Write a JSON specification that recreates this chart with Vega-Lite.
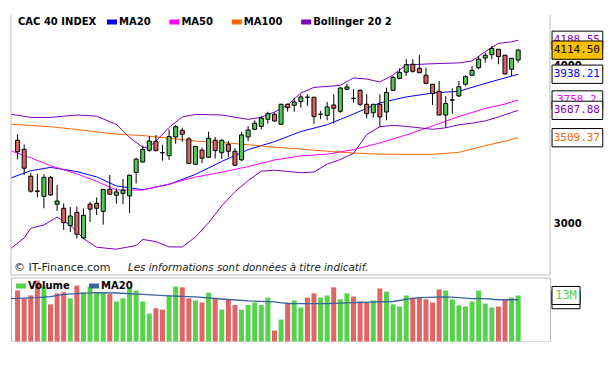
{
  "$schema": "https://vega.github.io/schema/vega-lite/v6.json",
  "background": "white",
  "padding": {"left": 10, "top": 14, "right": 0, "bottom": 0},
  "autosize": {"type": "pad"},
  "bounds": "flush",
  "config": {"view": {"stroke": null}, "font": "DejaVu Sans", "axis": {"grid": false}},
  "spacing": 2.5,
  "resolve": {"scale": {"color": "independent", "x": "independent", "y": "independent"}, "legend": {"color": "independent"}},
  "datasets": {
    "ohlc": [
      {"i":1,"open":3493,"high":3531,"low":3375,"close":3421,"vol":14.4},
      {"i":2,"open":3436,"high":3466,"low":3280,"close":3320,"vol":12.1},
      {"i":3,"open":3272,"high":3290,"low":3176,"close":3184,"vol":13.0},
      {"i":4,"open":3186,"high":3286,"low":3149,"close":3183,"vol":17.2},
      {"i":5,"open":3155,"high":3284,"low":3087,"close":3265,"vol":15.5},
      {"i":6,"open":3265,"high":3274,"low":3157,"close":3163,"vol":10.5},
      {"i":7,"open":3110,"high":3221,"low":3072,"close":3128,"vol":13.6},
      {"i":8,"open":3087,"high":3114,"low":2968,"close":3007,"vol":13.9},
      {"i":9,"open":2992,"high":3094,"low":2957,"close":3044,"vol":12.2},
      {"i":10,"open":3064,"high":3097,"low":2922,"close":2945,"vol":15.8},
      {"i":11,"open":2925,"high":3086,"low":2918,"close":3048,"vol":13.9},
      {"i":12,"open":3110,"high":3123,"low":3011,"close":3082,"vol":15.5},
      {"i":13,"open":3115,"high":3148,"low":3050,"close":3087,"vol":13.6},
      {"i":14,"open":3070,"high":3197,"low":2997,"close":3195,"vol":13.9},
      {"i":15,"open":3195,"high":3280,"low":3165,"close":3167,"vol":13.4},
      {"i":16,"open":3161,"high":3201,"low":3113,"close":3180,"vol":11.3},
      {"i":17,"open":3172,"high":3256,"low":3110,"close":3190,"vol":12.2},
      {"i":18,"open":3157,"high":3281,"low":3061,"close":3278,"vol":15.3},
      {"i":19,"open":3295,"high":3383,"low":3229,"close":3375,"vol":14.4},
      {"i":20,"open":3358,"high":3460,"low":3354,"close":3436,"vol":11.3},
      {"i":21,"open":3430,"high":3520,"low":3421,"close":3488,"vol":7.9},
      {"i":22,"open":3487,"high":3527,"low":3421,"close":3430,"vol":9.4},
      {"i":23,"open":3416,"high":3465,"low":3366,"close":3414,"vol":9.0},
      {"i":24,"open":3397,"high":3563,"low":3371,"close":3517,"vol":13.0},
      {"i":25,"open":3514,"high":3590,"low":3471,"close":3580,"vol":15.5},
      {"i":26,"open":3557,"high":3574,"low":3484,"close":3531,"vol":15.3},
      {"i":27,"open":3502,"high":3514,"low":3347,"close":3349,"vol":12.2},
      {"i":28,"open":3344,"high":3457,"low":3342,"close":3454,"vol":11.6},
      {"i":29,"open":3431,"high":3446,"low":3350,"close":3381,"vol":11.0},
      {"i":30,"open":3387,"high":3548,"low":3384,"close":3506,"vol":13.8},
      {"i":31,"open":3493,"high":3514,"low":3379,"close":3428,"vol":12.2},
      {"i":32,"open":3415,"high":3499,"low":3376,"close":3493,"vol":9.0},
      {"i":33,"open":3468,"high":3488,"low":3389,"close":3424,"vol":12.0},
      {"i":34,"open":3424,"high":3443,"low":3336,"close":3338,"vol":10.3},
      {"i":35,"open":3371,"high":3546,"low":3364,"close":3527,"vol":9.0},
      {"i":36,"open":3514,"high":3585,"low":3488,"close":3559,"vol":10.3},
      {"i":37,"open":3563,"high":3622,"low":3561,"close":3603,"vol":11.0},
      {"i":38,"open":3582,"high":3651,"low":3563,"close":3637,"vol":10.3},
      {"i":39,"open":3629,"high":3679,"low":3600,"close":3666,"vol":12.4},
      {"i":40,"open":3662,"high":3673,"low":3613,"close":3618,"vol":3.1},
      {"i":41,"open":3596,"high":3733,"low":3595,"close":3729,"vol":6.2},
      {"i":42,"open":3729,"high":3733,"low":3679,"close":3706,"vol":11.0},
      {"i":43,"open":3722,"high":3774,"low":3679,"close":3745,"vol":11.6},
      {"i":44,"open":3747,"high":3797,"low":3706,"close":3779,"vol":9.6},
      {"i":45,"open":3778,"high":3797,"low":3718,"close":3776,"vol":12.4},
      {"i":46,"open":3777,"high":3779,"low":3600,"close":3647,"vol":13.6},
      {"i":47,"open":3661,"high":3684,"low":3629,"close":3663,"vol":12.4},
      {"i":48,"open":3654,"high":3745,"low":3622,"close":3711,"vol":13.0},
      {"i":49,"open":3724,"high":3797,"low":3600,"close":3702,"vol":15.3},
      {"i":50,"open":3682,"high":3846,"low":3672,"close":3841,"vol":11.9},
      {"i":51,"open":3832,"high":3871,"low":3825,"close":3848,"vol":13.6},
      {"i":52,"open":3770,"high":3832,"low":3740,"close":3768,"vol":12.7},
      {"i":53,"open":3825,"high":3832,"low":3718,"close":3729,"vol":11.3},
      {"i":54,"open":3729,"high":3797,"low":3635,"close":3666,"vol":11.0},
      {"i":55,"open":3672,"high":3731,"low":3639,"close":3729,"vol":11.6},
      {"i":56,"open":3729,"high":3797,"low":3578,"close":3644,"vol":15.0},
      {"i":57,"open":3677,"high":3843,"low":3622,"close":3810,"vol":14.1},
      {"i":58,"open":3825,"high":3926,"low":3820,"close":3915,"vol":10.5},
      {"i":59,"open":3909,"high":3981,"low":3902,"close":3951,"vol":9.9},
      {"i":60,"open":3953,"high":4047,"low":3926,"close":4007,"vol":13.0},
      {"i":61,"open":4010,"high":4047,"low":3949,"close":3959,"vol":12.4},
      {"i":62,"open":3981,"high":4078,"low":3948,"close":3949,"vol":12.4},
      {"i":63,"open":3931,"high":3985,"low":3867,"close":3874,"vol":11.9},
      {"i":64,"open":3867,"high":3869,"low":3724,"close":3802,"vol":11.0},
      {"i":65,"open":3818,"high":3890,"low":3656,"close":3657,"vol":14.7},
      {"i":66,"open":3657,"high":3786,"low":3574,"close":3734,"vol":14.4},
      {"i":67,"open":3757,"high":3839,"low":3666,"close":3759,"vol":11.9},
      {"i":68,"open":3786,"high":3890,"low":3779,"close":3850,"vol":10.2},
      {"i":69,"open":3867,"high":3931,"low":3855,"close":3921,"vol":9.9},
      {"i":70,"open":3931,"high":3998,"low":3926,"close":3966,"vol":11.3},
      {"i":71,"open":3985,"high":4071,"low":3974,"close":4047,"vol":14.4},
      {"i":72,"open":4056,"high":4095,"low":4022,"close":4076,"vol":10.7},
      {"i":73,"open":4081,"high":4146,"low":4047,"close":4127,"vol":9.6},
      {"i":74,"open":4121,"high":4123,"low":4010,"close":4067,"vol":9.9},
      {"i":75,"open":4077,"high":4079,"low":3937,"close":3940,"vol":11.9},
      {"i":76,"open":3974,"high":4055,"low":3926,"close":4054,"vol":12.4},
      {"i":77,"open":4041,"high":4121,"low":4022,"close":4114.5,"vol":13.0}
    ],
    "lines": [
      {"i":0,"series":"MA20","band":"MA20","value":3262},{"i":3,"series":"MA20","band":"MA20","value":3305},{"i":6,"series":"MA20","band":"MA20","value":3325},{"i":10,"series":"MA20","band":"MA20","value":3300},{"i":13,"series":"MA20","band":"MA20","value":3268},{"i":16,"series":"MA20","band":"MA20","value":3215},{"i":20,"series":"MA20","band":"MA20","value":3193},{"i":24,"series":"MA20","band":"MA20","value":3224},{"i":28,"series":"MA20","band":"MA20","value":3283},{"i":32,"series":"MA20","band":"MA20","value":3361},{"i":36,"series":"MA20","band":"MA20","value":3434},{"i":40,"series":"MA20","band":"MA20","value":3484},{"i":44,"series":"MA20","band":"MA20","value":3549},{"i":48,"series":"MA20","band":"MA20","value":3593},{"i":52,"series":"MA20","band":"MA20","value":3664},{"i":56,"series":"MA20","band":"MA20","value":3738},{"i":60,"series":"MA20","band":"MA20","value":3779},{"i":64,"series":"MA20","band":"MA20","value":3806},{"i":68,"series":"MA20","band":"MA20","value":3818},{"i":72,"series":"MA20","band":"MA20","value":3873},{"i":75,"series":"MA20","band":"MA20","value":3912},{"i":77,"series":"MA20","band":"MA20","value":3938.21},
      {"i":0,"series":"MA50","band":"MA50","value":3426},{"i":3,"series":"MA50","band":"MA50","value":3384},{"i":6,"series":"MA50","band":"MA50","value":3335},{"i":10,"series":"MA50","band":"MA50","value":3286},{"i":13,"series":"MA50","band":"MA50","value":3242},{"i":16,"series":"MA50","band":"MA50","value":3191},{"i":20,"series":"MA50","band":"MA50","value":3191},{"i":24,"series":"MA50","band":"MA50","value":3226},{"i":28,"series":"MA50","band":"MA50","value":3267},{"i":32,"series":"MA50","band":"MA50","value":3296},{"i":36,"series":"MA50","band":"MA50","value":3330},{"i":40,"series":"MA50","band":"MA50","value":3370},{"i":44,"series":"MA50","band":"MA50","value":3395},{"i":48,"series":"MA50","band":"MA50","value":3406},{"i":52,"series":"MA50","band":"MA50","value":3434},{"i":56,"series":"MA50","band":"MA50","value":3476},{"i":60,"series":"MA50","band":"MA50","value":3527},{"i":64,"series":"MA50","band":"MA50","value":3585},{"i":68,"series":"MA50","band":"MA50","value":3647},{"i":72,"series":"MA50","band":"MA50","value":3701},{"i":75,"series":"MA50","band":"MA50","value":3731},{"i":77,"series":"MA50","band":"MA50","value":3758.2},
      {"i":0,"series":"MA100","band":"MA100","value":3596},{"i":3,"series":"MA100","band":"MA100","value":3588},{"i":6,"series":"MA100","band":"MA100","value":3580},{"i":10,"series":"MA100","band":"MA100","value":3562},{"i":13,"series":"MA100","band":"MA100","value":3546},{"i":16,"series":"MA100","band":"MA100","value":3532},{"i":20,"series":"MA100","band":"MA100","value":3523},{"i":24,"series":"MA100","band":"MA100","value":3506},{"i":28,"series":"MA100","band":"MA100","value":3488},{"i":32,"series":"MA100","band":"MA100","value":3479},{"i":36,"series":"MA100","band":"MA100","value":3465},{"i":40,"series":"MA100","band":"MA100","value":3449},{"i":44,"series":"MA100","band":"MA100","value":3438},{"i":48,"series":"MA100","band":"MA100","value":3424},{"i":52,"series":"MA100","band":"MA100","value":3413},{"i":56,"series":"MA100","band":"MA100","value":3406},{"i":60,"series":"MA100","band":"MA100","value":3405},{"i":64,"series":"MA100","band":"MA100","value":3405},{"i":68,"series":"MA100","band":"MA100","value":3417},{"i":72,"series":"MA100","band":"MA100","value":3459},{"i":75,"series":"MA100","band":"MA100","value":3487},{"i":77,"series":"MA100","band":"MA100","value":3509.37},
      {"i":0,"series":"Bollinger 20 2","band":"upper","value":3662},{"i":3,"series":"Bollinger 20 2","band":"upper","value":3641},{"i":6,"series":"Bollinger 20 2","band":"upper","value":3641},{"i":10,"series":"Bollinger 20 2","band":"upper","value":3657},{"i":13,"series":"Bollinger 20 2","band":"upper","value":3649},{"i":16,"series":"Bollinger 20 2","band":"upper","value":3595},{"i":18,"series":"Bollinger 20 2","band":"upper","value":3511},{"i":20,"series":"Bollinger 20 2","band":"upper","value":3448},{"i":21,"series":"Bollinger 20 2","band":"upper","value":3451},{"i":22,"series":"Bollinger 20 2","band":"upper","value":3488},{"i":24,"series":"Bollinger 20 2","band":"upper","value":3575},{"i":26,"series":"Bollinger 20 2","band":"upper","value":3644},{"i":28,"series":"Bollinger 20 2","band":"upper","value":3661},{"i":32,"series":"Bollinger 20 2","band":"upper","value":3657},{"i":36,"series":"Bollinger 20 2","band":"upper","value":3628},{"i":38,"series":"Bollinger 20 2","band":"upper","value":3642},{"i":40,"series":"Bollinger 20 2","band":"upper","value":3677},{"i":42,"series":"Bollinger 20 2","band":"upper","value":3724},{"i":44,"series":"Bollinger 20 2","band":"upper","value":3806},{"i":46,"series":"Bollinger 20 2","band":"upper","value":3845},{"i":48,"series":"Bollinger 20 2","band":"upper","value":3852},{"i":50,"series":"Bollinger 20 2","band":"upper","value":3859},{"i":52,"series":"Bollinger 20 2","band":"upper","value":3912},{"i":54,"series":"Bollinger 20 2","band":"upper","value":3904},{"i":56,"series":"Bollinger 20 2","band":"upper","value":3883},{"i":58,"series":"Bollinger 20 2","band":"upper","value":3933},{"i":60,"series":"Bollinger 20 2","band":"upper","value":4005},{"i":64,"series":"Bollinger 20 2","band":"upper","value":4014},{"i":68,"series":"Bollinger 20 2","band":"upper","value":4020},{"i":70,"series":"Bollinger 20 2","band":"upper","value":4034},{"i":72,"series":"Bollinger 20 2","band":"upper","value":4104},{"i":74,"series":"Bollinger 20 2","band":"upper","value":4165},{"i":76,"series":"Bollinger 20 2","band":"upper","value":4177},{"i":77,"series":"Bollinger 20 2","band":"upper","value":4188.55},
      {"i":0,"series":"Bollinger 20 2","band":"lower","value":2870},{"i":2,"series":"Bollinger 20 2","band":"lower","value":2925},{"i":3,"series":"Bollinger 20 2","band":"lower","value":2977},{"i":5,"series":"Bollinger 20 2","band":"lower","value":2995},{"i":7,"series":"Bollinger 20 2","band":"lower","value":3038},{"i":9,"series":"Bollinger 20 2","band":"lower","value":2995},{"i":11,"series":"Bollinger 20 2","band":"lower","value":2922},{"i":13,"series":"Bollinger 20 2","band":"lower","value":2876},{"i":16,"series":"Bollinger 20 2","band":"lower","value":2866},{"i":19,"series":"Bollinger 20 2","band":"lower","value":2885},{"i":20,"series":"Bollinger 20 2","band":"lower","value":2917},{"i":22,"series":"Bollinger 20 2","band":"lower","value":2906},{"i":24,"series":"Bollinger 20 2","band":"lower","value":2878},{"i":26,"series":"Bollinger 20 2","band":"lower","value":2877},{"i":28,"series":"Bollinger 20 2","band":"lower","value":2930},{"i":30,"series":"Bollinger 20 2","band":"lower","value":3007},{"i":32,"series":"Bollinger 20 2","band":"lower","value":3100},{"i":34,"series":"Bollinger 20 2","band":"lower","value":3181},{"i":36,"series":"Bollinger 20 2","band":"lower","value":3246},{"i":38,"series":"Bollinger 20 2","band":"lower","value":3302},{"i":40,"series":"Bollinger 20 2","band":"lower","value":3308},{"i":42,"series":"Bollinger 20 2","band":"lower","value":3301},{"i":44,"series":"Bollinger 20 2","band":"lower","value":3293},{"i":46,"series":"Bollinger 20 2","band":"lower","value":3297},{"i":48,"series":"Bollinger 20 2","band":"lower","value":3345},{"i":50,"series":"Bollinger 20 2","band":"lower","value":3373},{"i":52,"series":"Bollinger 20 2","band":"lower","value":3411},{"i":54,"series":"Bollinger 20 2","band":"lower","value":3529},{"i":56,"series":"Bollinger 20 2","band":"lower","value":3580},{"i":58,"series":"Bollinger 20 2","band":"lower","value":3589},{"i":60,"series":"Bollinger 20 2","band":"lower","value":3582},{"i":62,"series":"Bollinger 20 2","band":"lower","value":3573},{"i":64,"series":"Bollinger 20 2","band":"lower","value":3563},{"i":66,"series":"Bollinger 20 2","band":"lower","value":3573},{"i":68,"series":"Bollinger 20 2","band":"lower","value":3593},{"i":70,"series":"Bollinger 20 2","band":"lower","value":3603},{"i":72,"series":"Bollinger 20 2","band":"lower","value":3618},{"i":74,"series":"Bollinger 20 2","band":"lower","value":3644},{"i":76,"series":"Bollinger 20 2","band":"lower","value":3674},{"i":77,"series":"Bollinger 20 2","band":"lower","value":3687.88}
    ],
    "plabels": [
      {"series":"Bollinger 20 2","value":4188.55,"label":"4188.55"},
      {"series":"MA50","value":3758.2,"label":"3758.2"},
      {"series":"MA20","value":3938.21,"label":"3938.21"},
      {"series":"Bollinger 20 2","value":3687.88,"label":"3687.88"},
      {"series":"MA100","value":3509.37,"label":"3509.37"},
      {"series":"CAC 40 INDEX","value":4114.5,"label":"4114.50"}
    ],
    "ticks": [
      {"price":3000,"label":"3000"},
      {"price":4000,"label":"4000"}
    ],
    "vma": [
      {"i":0,"series":"MA20","value":12.1},{"i":4,"series":"MA20","value":12.4},{"i":6,"series":"MA20","value":12.7},{"i":8,"series":"MA20","value":13.3},{"i":10,"series":"MA20","value":13.5},{"i":13,"series":"MA20","value":13.8},{"i":16,"series":"MA20","value":13.7},{"i":20,"series":"MA20","value":13.3},{"i":24,"series":"MA20","value":12.9},{"i":28,"series":"MA20","value":12.6},{"i":32,"series":"MA20","value":12.0},{"i":36,"series":"MA20","value":11.5},{"i":40,"series":"MA20","value":11.2},{"i":42,"series":"MA20","value":10.7},{"i":48,"series":"MA20","value":10.7},{"i":52,"series":"MA20","value":11.0},{"i":58,"series":"MA20","value":11.3},{"i":60,"series":"MA20","value":11.9},{"i":62,"series":"MA20","value":12.4},{"i":66,"series":"MA20","value":12.6},{"i":68,"series":"MA20","value":12.4},{"i":70,"series":"MA20","value":12.1},{"i":72,"series":"MA20","value":12.1},{"i":74,"series":"MA20","value":11.8},{"i":77,"series":"MA20","value":11.8}
    ],
    "vlabels": [
      {"series":"MA20","value":11.8,"label":"12M"},
      {"series":"Volume","value":13.0,"label":"13M"}
    ],
    "footer": [
      {"i":0.45,"price":2770,"text":"© IT-Finance.com","part":"site"},
      {"i":17.76,"price":2770,"text":"Les informations sont données à titre indicatif.","part":"note"}
    ],
    "frame": [
      {"i":0},
      {"i":81.83}
    ],
    "floor": [
      {"price":2734.6}
    ]
  },
  "vconcat": [
    {
      "width": 539,
      "height": 260,
      "title": {"text": "CAC 40 INDEX", "anchor": "start", "frame": "group", "offset": -12, "dx": 7, "font": "DejaVu Sans", "fontSize": 10, "fontWeight": "bold", "color": "#000000"},
      "layer": [
        {
          "data": {"name": "lines"},
          "mark": {"type": "line", "strokeWidth": 1, "strokeJoin": "round", "clip": true},
          "encoding": {
            "x": {"field": "i", "type": "quantitative", "scale": {"domain": [0, 81.83], "nice": false, "zero": false, "padding": 0}, "axis": null},
            "y": {"field": "value", "type": "quantitative", "scale": {"type": "log", "domain": [2734.6, 4385.6], "nice": false, "zero": false, "padding": 0}, "axis": null},
            "color": {"field": "series", "type": "nominal",
              "scale": {"domain": ["MA20", "MA50", "MA100", "Bollinger 20 2"], "range": ["#0000ff", "#ff00ff", "#ff6600", "#8000c0"]},
              "legend": {"orient": "none", "legendX": 96, "legendY": 2, "direction": "horizontal", "title": null,
                "symbolType": "M-2,0H2", "symbolSize": 25, "symbolStrokeWidth": 5, "symbolOpacity": 1,
                "labelFont": "DejaVu Sans", "labelFontSize": 10, "labelFontWeight": "bold", "labelColor": "#000000",
                "labelOffset": 2, "columnPadding": 8.4, "padding": 0}},
            "detail": {"field": "band"}
          }
        },
        {
          "data": {"name": "frame"},
          "mark": {"type": "rule", "color": "#bdbdbd", "strokeWidth": 1},
          "encoding": {"x": {"field": "i", "type": "quantitative", "axis": null}}
        },
        {
          "data": {"name": "floor"},
          "mark": {"type": "rule", "color": "#bdbdbd", "strokeWidth": 1},
          "encoding": {"y": {"field": "price", "type": "quantitative", "axis": null}}
        },
        {
          "data": {"name": "ohlc"},
          "mark": {"type": "rule", "color": "#000000", "strokeWidth": 1},
          "encoding": {
            "x": {"field": "i", "type": "quantitative", "axis": null},
            "y": {"field": "low", "type": "quantitative", "axis": null},
            "y2": {"field": "high"}
          }
        },
        {
          "data": {"name": "ohlc"},
          "mark": {"type": "bar", "width": 4, "stroke": "#000000", "strokeWidth": 1},
          "encoding": {
            "x": {"field": "i", "type": "quantitative", "axis": null},
            "y": {"field": "open", "type": "quantitative", "axis": null},
            "y2": {"field": "close"},
            "fill": {"condition": {"test": "datum.close >= datum.open", "value": "#55c955"}, "value": "#d96464"}
          }
        },
        {
          "data": {"name": "footer"},
          "transform": [{"filter": "datum.part == 'site'"}],
          "mark": {"type": "text", "align": "left", "baseline": "middle", "font": "DejaVu Sans", "fontSize": 11, "color": "#222222"},
          "encoding": {"x": {"field": "i", "type": "quantitative", "axis": null}, "y": {"field": "price", "type": "quantitative", "axis": null}, "text": {"field": "text"}}
        },
        {
          "data": {"name": "footer"},
          "transform": [{"filter": "datum.part == 'note'"}],
          "mark": {"type": "text", "align": "left", "baseline": "middle", "font": "DejaVu Sans", "fontSize": 10.3, "fontStyle": "italic", "color": "#222222"},
          "encoding": {"x": {"field": "i", "type": "quantitative", "axis": null}, "y": {"field": "price", "type": "quantitative", "axis": null}, "text": {"field": "text"}}
        },
        {
          "data": {"name": "ticks"},
          "mark": {"type": "text", "align": "left", "baseline": "middle", "font": "DejaVu Sans", "fontSize": 10, "fontWeight": "bold", "color": "#000000"},
          "encoding": {"x": {"datum": 82.4, "type": "quantitative", "axis": null}, "y": {"field": "price", "type": "quantitative", "axis": null}, "text": {"field": "label"}}
        },
        {
          "data": {"name": "plabels"},
          "transform": [{"filter": "datum.label == '4188.55' || datum.label == '3758.2'"}],
          "mark": {"type": "point", "shape": "M-1,-0.361H1V0.361H-1Z", "size": 2570, "filled": true, "fill": "#ffffff", "stroke": "#000000", "strokeWidth": 1, "opacity": 1},
          "encoding": {"x": {"datum": 85.99, "type": "quantitative", "axis": null}, "y": {"field": "value", "type": "quantitative", "axis": null}}
        },
        {
          "data": {"name": "plabels"},
          "transform": [{"filter": "datum.label == '4188.55' || datum.label == '3758.2'"}],
          "mark": {"type": "text", "font": "DejaVu Sans Mono", "fontSize": 11, "align": "center", "baseline": "middle"},
          "encoding": {"x": {"datum": 85.9, "type": "quantitative", "axis": null}, "y": {"field": "value", "type": "quantitative", "axis": null}, "text": {"field": "label"}, "color": {"field": "series", "type": "nominal", "legend": null}}
        },
        {
          "data": {"name": "plabels"},
          "transform": [{"filter": "datum.label == '3938.21' || datum.label == '3687.88' || datum.label == '3509.37'"}],
          "mark": {"type": "point", "shape": "M-1,-0.361H1V0.361H-1Z", "size": 2570, "filled": true, "fill": "#ffffff", "stroke": "#000000", "strokeWidth": 1, "opacity": 1},
          "encoding": {"x": {"datum": 85.99, "type": "quantitative", "axis": null}, "y": {"field": "value", "type": "quantitative", "axis": null}}
        },
        {
          "data": {"name": "plabels"},
          "transform": [{"filter": "datum.label == '3938.21' || datum.label == '3687.88' || datum.label == '3509.37'"}],
          "mark": {"type": "text", "font": "DejaVu Sans Mono", "fontSize": 11, "align": "center", "baseline": "middle"},
          "encoding": {"x": {"datum": 85.9, "type": "quantitative", "axis": null}, "y": {"field": "value", "type": "quantitative", "axis": null}, "text": {"field": "label"}, "color": {"field": "series", "type": "nominal", "legend": null}}
        },
        {
          "data": {"name": "plabels"},
          "transform": [{"filter": "datum.series == 'CAC 40 INDEX'"}],
          "mark": {"type": "point", "shape": "M-1,-0.361H1V0.361H-1Z", "size": 2570, "filled": true, "fill": "#ffc000", "stroke": "#000000", "strokeWidth": 1, "opacity": 1},
          "encoding": {"x": {"datum": 85.99, "type": "quantitative", "axis": null}, "y": {"field": "value", "type": "quantitative", "axis": null}}
        },
        {
          "data": {"name": "plabels"},
          "transform": [{"filter": "datum.series == 'CAC 40 INDEX'"}],
          "mark": {"type": "text", "font": "DejaVu Sans Mono", "fontSize": 11, "align": "center", "baseline": "middle", "color": "#000000"},
          "encoding": {"x": {"datum": 85.9, "type": "quantitative", "axis": null}, "y": {"field": "value", "type": "quantitative", "axis": null}, "text": {"field": "label"}}
        }
      ]
    },
    {
      "width": 539,
      "height": 64,
      "view": {"stroke": "#bdbdbd", "strokeWidth": 1},
      "layer": [
        {
          "data": {"name": "ohlc"},
          "transform": [{"window": [{"op": "lag", "field": "close", "as": "prev"}], "sort": [{"field": "i", "order": "ascending"}]}],
          "mark": {"type": "bar", "width": 5},
          "encoding": {
            "x": {"field": "i", "type": "quantitative", "scale": {"domain": [0, 81.83], "nice": false, "zero": false, "padding": 0}, "axis": null},
            "y": {"field": "vol", "type": "quantitative", "scale": {"domain": [0, 18.08], "nice": false, "zero": true, "padding": 0}, "axis": null},
            "fill": {"condition": {"test": "datum.prev != null && datum.close >= datum.prev", "value": "#57d24d"}, "value": "#e06666"}
          }
        },
        {
          "data": {"name": "vma"},
          "mark": {"type": "line", "strokeWidth": 1.3, "strokeJoin": "round", "clip": true},
          "encoding": {
            "x": {"field": "i", "type": "quantitative", "axis": null},
            "y": {"field": "value", "type": "quantitative", "axis": null},
            "color": {"field": "series", "type": "nominal",
              "scale": {"domain": ["Volume", "MA20"], "range": ["#57d24d", "#35649e"]},
              "legend": {"orient": "none", "legendX": 5, "legendY": 3.5, "direction": "horizontal", "title": null,
                "symbolType": "M-2,0H2", "symbolSize": 25, "symbolStrokeWidth": 5, "symbolOpacity": 1,
                "labelFont": "DejaVu Sans", "labelFontSize": 10, "labelFontWeight": "bold", "labelColor": "#000000",
                "labelOffset": 2, "columnPadding": 9, "padding": 0}}
          }
        },
        {
          "data": {"name": "vlabels"},
          "transform": [{"filter": "datum.series == 'MA20'"}],
          "mark": {"type": "point", "shape": "M-1,-0.643H1V0.643H-1Z", "size": 784, "filled": true, "fill": "#ffffff", "stroke": "#000000", "strokeWidth": 1, "opacity": 1},
          "encoding": {"x": {"datum": 84.26, "type": "quantitative", "axis": null}, "y": {"field": "value", "type": "quantitative", "axis": null}}
        },
        {
          "data": {"name": "vlabels"},
          "transform": [{"filter": "datum.series == 'MA20'"}],
          "mark": {"type": "text", "font": "DejaVu Sans Mono", "fontSize": 12, "align": "center", "baseline": "middle", "color": "#000000"},
          "encoding": {"x": {"datum": 84.26, "type": "quantitative", "axis": null}, "y": {"field": "value", "type": "quantitative", "axis": null}, "text": {"field": "label"}}
        },
        {
          "data": {"name": "vlabels"},
          "transform": [{"filter": "datum.series == 'Volume'"}],
          "mark": {"type": "point", "shape": "M-1,-0.643H1V0.643H-1Z", "size": 784, "filled": true, "fill": "#ffffff", "stroke": "#000000", "strokeWidth": 1, "opacity": 1},
          "encoding": {"x": {"datum": 84.26, "type": "quantitative", "axis": null}, "y": {"field": "value", "type": "quantitative", "axis": null}}
        },
        {
          "data": {"name": "vlabels"},
          "transform": [{"filter": "datum.series == 'Volume'"}],
          "mark": {"type": "text", "font": "DejaVu Sans Mono", "fontSize": 12, "align": "center", "baseline": "middle", "color": "#57d24d"},
          "encoding": {"x": {"datum": 84.26, "type": "quantitative", "axis": null}, "y": {"field": "value", "type": "quantitative", "axis": null}, "text": {"field": "label"}}
        }
      ]
    }
  ]
}
